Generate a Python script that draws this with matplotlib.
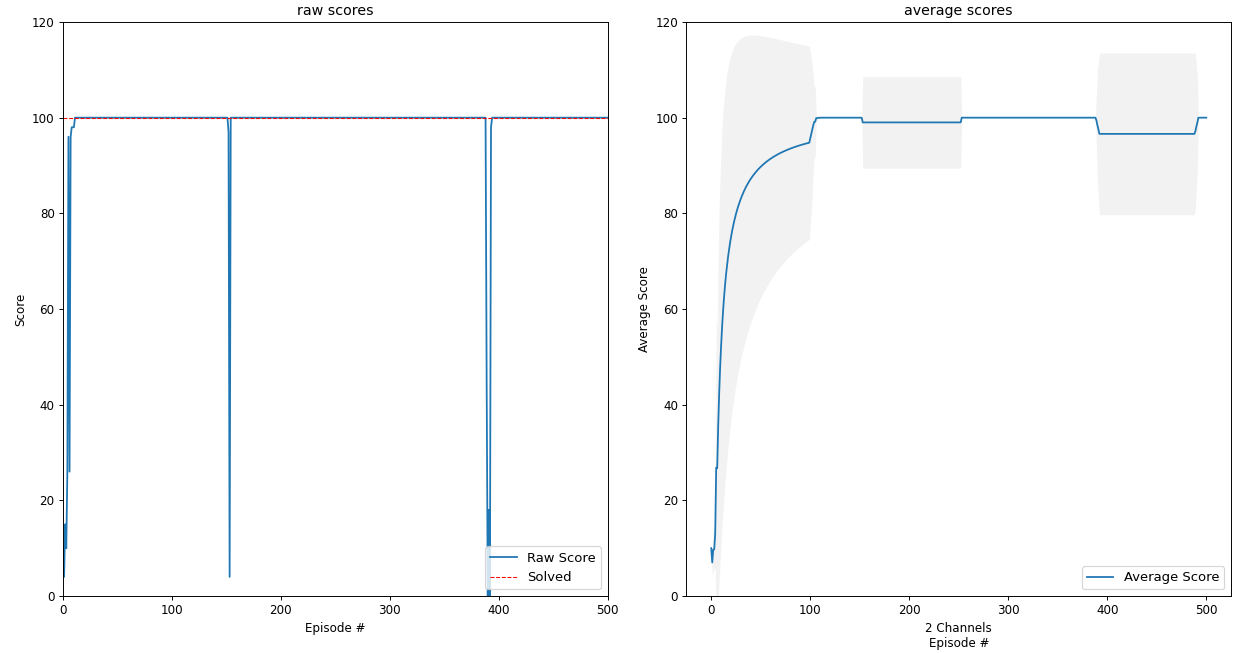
import numpy as np
import matplotlib
matplotlib.use("Agg")
import matplotlib.pyplot as plt

# raw scores per episode (everything else sits at 100)
n_episodes = 501
solved_score = 100
early_scores = [10, 4, 15, 10, 26, 96, 26, 96, 98, 98, 98]
dip_1_start = 152
dip_1_scores = [97, 4]
dip_2_start = 389
dip_2_scores = [45, 0, 18, 0, 98]
window = 100

scores = np.full(n_episodes, float(solved_score))
scores[:len(early_scores)] = early_scores
scores[dip_1_start:dip_1_start + len(dip_1_scores)] = dip_1_scores
scores[dip_2_start:dip_2_start + len(dip_2_scores)] = dip_2_scores

episodes = np.arange(n_episodes)
avg = np.array([scores[max(0, i - window + 1):i + 1].mean() for i in episodes])
std = np.array([scores[max(0, i - window + 1):i + 1].std() for i in episodes])

dpi = 85.5
fig, (ax1, ax2) = plt.subplots(1, 2, figsize=(1233 / dpi, 653 / dpi), dpi=dpi)
fig.subplots_adjust(left=0.0511, right=0.9984, bottom=0.0873, top=0.9663, wspace=0.145)

ax1.plot(episodes, scores, label="Raw Score")
ax1.plot(episodes, np.full(n_episodes, solved_score), color="red", linestyle="--",
         linewidth=0.9, label="Solved")
ax1.set_xlim(0, n_episodes - 1)
ax1.set_ylim(0, 120)
ax1.set_title("raw scores")
ax1.set_xlabel("Episode #")
ax1.set_ylabel("Score")
ax1.legend(loc="lower right", fontsize=11)

ax2.fill_between(episodes, avg - std, avg + std, color="gray", alpha=0.1, linewidth=0)
ax2.plot(episodes, avg, label="Average Score")
ax2.set_ylim(0, 120)
ax2.set_title("average scores")
ax2.set_xlabel("2 Channels\nEpisode #")
ax2.set_ylabel("Average Score")
ax2.legend(loc="lower right", fontsize=11)

plt.savefig("out.png", dpi=dpi)
